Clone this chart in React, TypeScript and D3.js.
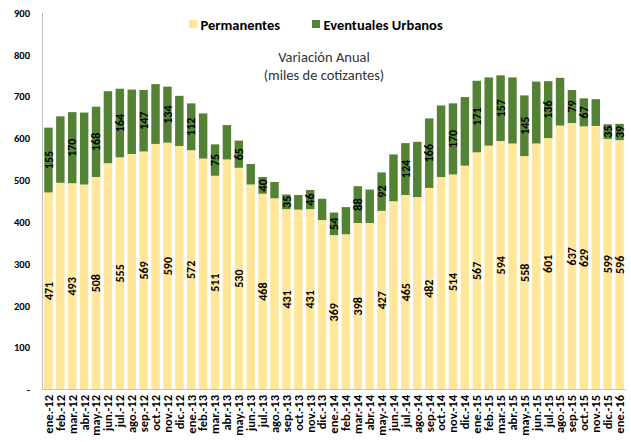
import React from "react";
import * as d3 from "d3";

const months = ["ene.", "feb.", "mar.", "abr.", "may.", "jun.", "jul.", "ago.", "sep.", "oct.", "nov.", "dic."];
const years = ["12", "13", "14", "15", "16"];
const categories: string[] = [];
years.forEach((y) => months.forEach((m) => categories.push(`${m}-${y}`)));
categories.splice(49);

const permanentes = [
  471, 494, 493, 490, 508, 541, 555, 563, 569, 587, 590, 582,
  572, 552, 511, 550, 530, 490, 468, 457, 431, 430, 431, 405,
  369, 371, 398, 398, 427, 450, 465, 460, 482, 508, 514, 535,
  567, 583, 594, 588, 558, 588, 601, 631, 637, 629, 630, 599,
  596,
];
const eventuales = [
  155, 159, 170, 172, 168, 172, 164, 154, 147, 143, 134, 120,
  112, 108, 75, 82, 65, 49, 40, 39, 35, 35, 46, 51,
  54, 65, 88, 80, 92, 112, 124, 132, 166, 171, 170, 164,
  171, 163, 157, 158, 145, 148, 136, 114, 79, 67, 64, 35,
  39,
];
// indices whose value labels are shown
const labeledIdx = [0, 2, 4, 6, 8, 10, 12, 14, 16, 18, 20, 22, 24, 26, 28, 30, 32, 34, 36, 38, 40, 42, 44, 45, 47, 48];
const yTicks = [0, 100, 200, 300, 400, 500, 600, 700, 800, 900];
const seriesNames = ["Permanentes", "Eventuales Urbanos"];
const colors = ["#FFE699", "#548235"];

const W = 631;
const H = 442;
const FONT = "Carlito, Calibri, Lato, 'DejaVu Sans', sans-serif";

export default function App() {
  const x = d3.scaleBand<string>().domain(categories).range([42.5, 625.5]).paddingInner(0.29).paddingOuter(0.145);
  const y = d3.scaleLinear().domain([0, 900]).range([389.5, 13]);
  const rows = categories.map((c, i) => ({ cat: c, p: permanentes[i], e: eventuales[i] }));
  const stack = d3.stack<any>().keys(["p", "e"])(rows);
  const bw = x.bandwidth();

  return (
    <svg width={W} height={H} style={{ position: "absolute", left: 0, top: 0, background: "#fff" }} fontFamily={FONT}>
      {/* y tick labels */}
      {yTicks.map((t) => (
        <text key={t} x={30} y={y(t)} dy="0.35em" textAnchor="end" fontSize={10.5} fontWeight="bold" fill="#000">
          {t === 0 ? "-" : t}
        </text>
      ))}
      {/* bars */}
      {stack.map((s, si) => (
        <g key={si}>
          {s.map((d, i) => (
            <rect
              key={i}
              x={x(categories[i])}
              y={y(d[1])}
              width={bw}
              height={y(d[0]) - y(d[1])}
              fill={colors[si]}
            />
          ))}
        </g>
      ))}
      {/* axes */}
      <line x1={42.5} x2={42.5} y1={13} y2={389.5} stroke="#bfbfbf" strokeWidth={1} />
      <line x1={42.5} x2={625.5} y1={389.5} y2={389.5} stroke="#bfbfbf" strokeWidth={1} />
      {/* value labels */}
      {stack.map((s, si) =>
        labeledIdx.map((i) => {
          const d = s[i];
          const cx = (x(categories[i]) as number) + bw / 2;
          const cy = (y(d[0]) + y(d[1])) / 2;
          const v = si === 0 ? permanentes[i] : eventuales[i];
          return (
            <text
              key={`${si}-${i}`}
              transform={`translate(${cx},${cy}) rotate(-90)`}
              textAnchor="middle"
              dy="0.35em"
              fontSize={12}
              fontWeight={600}
              fill="#000"
            >
              {v}
            </text>
          );
        })
      )}
      {/* x labels */}
      {categories.map((c) => (
        <text
          key={c}
          transform={`translate(${(x(c) as number) + bw / 2},${395}) rotate(-90)`}
          textAnchor="end"
          dy="0.35em"
          fontSize={12.5}
          fontWeight="bold"
          fill="#000"
        >
          {c}
        </text>
      ))}
      {/* legend */}
      {seriesNames.map((n, i) => {
        const lx = i === 0 ? 189 : 312;
        return (
          <g key={n}>
            <rect x={lx} y={20} width={8} height={8} fill={colors[i]} />
            <text x={lx + 11.5} y={29.5} fontSize={14.5} fontWeight="bold" fill="#000">
              {n}
            </text>
          </g>
        );
      })}
      {/* title */}
      <text x={324} y={62} textAnchor="middle" fontSize={14.5} fill="#333">
        Variación Anual
      </text>
      <text x={324} y={80} textAnchor="middle" fontSize={14.5} fill="#333">
        (miles de cotizantes)
      </text>
    </svg>
  );
}
